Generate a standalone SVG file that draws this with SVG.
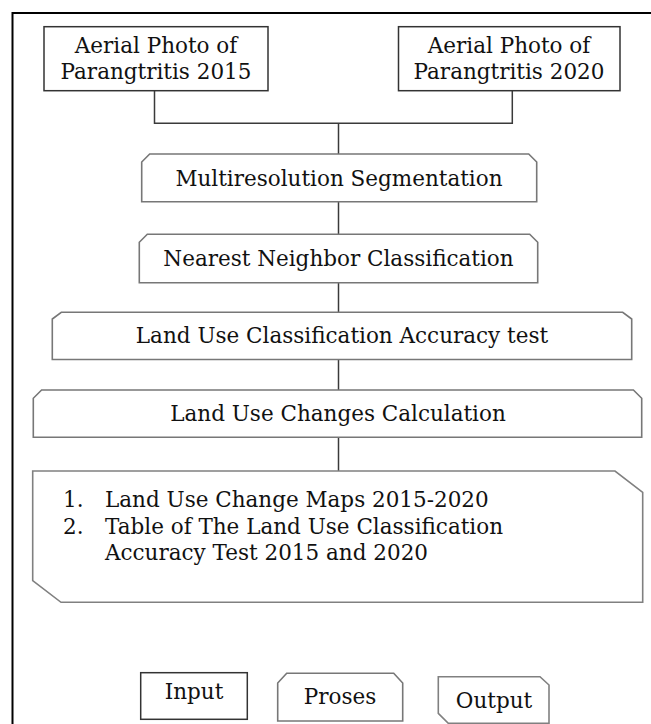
<svg xmlns="http://www.w3.org/2000/svg" width="651" height="724" viewBox="0 0 651 724">
  <style>
    .frame { fill: none; stroke: #000; stroke-width: 2; }
    .input { fill: #fff; stroke: #333; stroke-width: 1.5; }
    .proc { fill: #fff; stroke: #777; stroke-width: 1.6; stroke-linejoin: miter; }
    .out { fill: #fff; stroke: #808080; stroke-width: 1.6; }
    .wire { fill: none; stroke: #3a3a3a; stroke-width: 1.5; }
    text { font-family: "DejaVu Serif", "Liberation Serif", serif; font-size: 21.5px; fill: #111; }
    .c { text-anchor: middle; }
  </style>

  <!-- outer frame (runs off the right and bottom edges) -->
  <path class="frame" d="M12.5 730 V13 H660"/>

  <g id="connectors">
    <path class="wire" d="M154.5 90.7 V123.3 H512.3 V90.7"/>
    <path class="wire" d="M338.5 123.3 V154"/>
    <path class="wire" d="M338.5 201.7 V234.3"/>
    <path class="wire" d="M338.5 282.7 V312.3"/>
    <path class="wire" d="M338.5 359.5 V390"/>
    <path class="wire" d="M338.5 437.3 V471"/>
  </g>

  <g id="photo2015">
    <rect class="input" x="44" y="26.7" width="224" height="64"/>
    <text class="c" x="156" y="53">Aerial Photo of</text>
    <text class="c" x="156" y="79">Parangtritis 2015</text>
  </g>

  <g id="photo2020">
    <rect class="input" x="398.5" y="26.7" width="221.5" height="64"/>
    <text class="c" x="509" y="53">Aerial Photo of</text>
    <text class="c" x="509" y="79">Parangtritis 2020</text>
  </g>

  <g id="segmentation">
    <path class="proc" d="M141.7 201.7 V162 L149.7 154 H528.7 L536.7 162 V201.7 Z"/>
    <text class="c" x="339" y="185.5">Multiresolution Segmentation</text>
  </g>

  <g id="classification">
    <path class="proc" d="M139.3 282.7 V242.3 L147.3 234.3 H529.7 L537.7 242.3 V282.7 Z"/>
    <text class="c" x="338.5" y="265.5">Nearest Neighbor Classification</text>
  </g>

  <g id="accuracy">
    <path class="proc" d="M52.3 359.5 V319 L61.3 312.3 H622.7 L631.7 319 V359.5 Z"/>
    <text class="c" x="342" y="343">Land Use Classification Accuracy test</text>
  </g>

  <g id="changes">
    <path class="proc" d="M33.3 437.3 V398.3 L41.6 390 H633.4 L641.7 398.3 V437.3 Z"/>
    <text class="c" x="338" y="421">Land Use Changes Calculation</text>
  </g>

  <g id="results">
    <path class="out" d="M32.7 471 H615 L642.7 492.3 V602.3 H61 L32.7 580.7 Z"/>
    <text x="63" y="507">1.</text>
    <text x="105" y="507">Land Use Change Maps 2015-2020</text>
    <text x="63" y="533.5">2.</text>
    <text x="105" y="533.5">Table of The Land Use Classification</text>
    <text x="105" y="560">Accuracy Test 2015 and 2020</text>
  </g>

  <g id="legend-input">
    <rect class="input" x="140.7" y="672.7" width="106.6" height="46.6"/>
    <text class="c" x="194" y="698.5">Input</text>
  </g>

  <g id="legend-proses">
    <path class="proc" d="M277.7 721 V683 L286.7 673.3 H393.7 L402.7 683 V721 Z"/>
    <text class="c" x="340" y="703.5">Proses</text>
  </g>

  <g id="legend-output">
    <path class="out" d="M438.3 676.7 H540 L549 685 V723.3 H448.3 L438.3 713.3 Z"/>
    <text class="c" x="494" y="707.5">Output</text>
  </g>
</svg>
